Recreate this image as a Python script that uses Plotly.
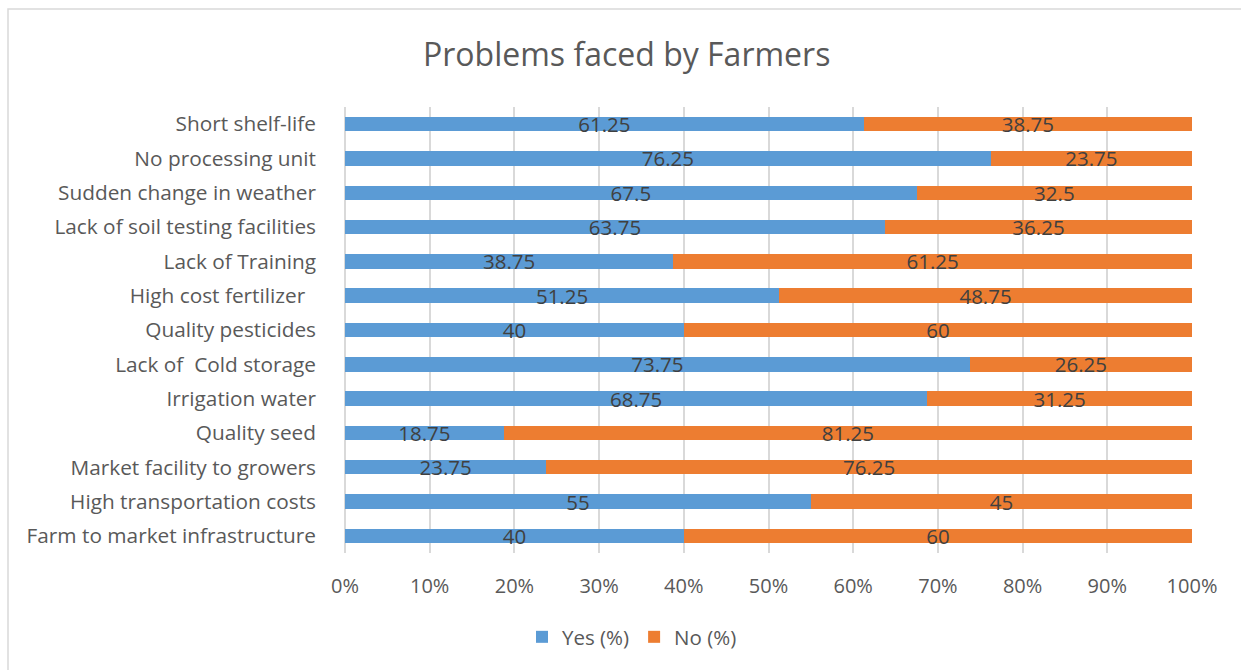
import plotly.graph_objects as go

categories = [
    "Short shelf-life",
    "No processing unit",
    "Sudden change in weather",
    "Lack of soil testing facilities",
    "Lack of Training",
    "High cost fertilizer\u00a0\u00a0",
    "Quality pesticides",
    "Lack of\u00a0 Cold storage",
    "Irrigation water",
    "Quality seed",
    "Market facility to growers",
    "High transportation costs",
    "Farm to market infrastructure",
]
yes_pct = [61.25, 76.25, 67.5, 63.75, 38.75, 51.25, 40, 73.75, 68.75, 18.75, 23.75, 55, 40]
no_pct = [38.75, 23.75, 32.5, 36.25, 61.25, 48.75, 60, 26.25, 31.25, 81.25, 76.25, 45, 60]
tick_vals = [0, 10, 20, 30, 40, 50, 60, 70, 80, 90, 100]
tick_text = [f"{v}%" for v in tick_vals]

FONT = "Open Sans"
TXT = "#595959"

fig = go.Figure()
for vals, name, color in [(yes_pct, "Yes (%)", "#5B9BD5"), (no_pct, "No (%)", "#ED7D31")]:
    fig.add_trace(go.Bar(
        y=categories, x=vals, name=name, orientation="h",
        marker=dict(color=color, line=dict(width=0)),
        text=[f"{v:g}" for v in vals], textposition="inside",
        insidetextanchor="middle", constraintext="none", textangle=0,
        textfont=dict(color="#404040", size=20.5, family=FONT),
        width=0.42,
    ))

W, H = 1241, 670
L, R, T, B = 345, 49, 107, 117
pw, ph = W - L - R, H - T - B

def px_x(p):
    return (p - L) / pw

def px_y(p):
    return (H - B - p) / ph

fig.update_layout(
    width=W, height=H,
    barmode="stack",
    margin=dict(l=L, r=R, t=T, b=B),
    paper_bgcolor="white", plot_bgcolor="white",
    font=dict(family=FONT, color=TXT, size=20),
    title=dict(text="Problems faced by Farmers", x=0.505, xanchor="center",
               y=1 - 55 / H, yanchor="middle",
               font=dict(size=32, color=TXT, family=FONT)),
    xaxis=dict(range=[0, 100], tickvals=tick_vals, ticktext=tick_text,
               showgrid=True, gridcolor="#D9D9D9", gridwidth=1.5,
               zeroline=True, zerolinecolor="#D9D9D9", zerolinewidth=1.5,
               showline=False, ticks="", ticklabelstandoff=19,
               tickfont=dict(size=20, color=TXT)),
    yaxis=dict(autorange="reversed", showgrid=False, zeroline=False,
               showline=False, ticks="", ticklabelstandoff=28,
               tickfont=dict(size=20.8, color=TXT)),
    legend=dict(orientation="h", x=px_x(632), xanchor="center",
                y=px_y(637), yanchor="middle", itemwidth=30,
                font=dict(size=20.5, color=TXT), traceorder="normal"),
    shapes=[dict(type="rect", xref="paper", yref="paper",
                 x0=px_x(8), x1=px_x(1250), y0=px_y(680), y1=px_y(9),
                 line=dict(color="#D9D9D9", width=1.5), fillcolor="rgba(0,0,0,0)",
                 layer="below")],
)

fig.write_html("out.html")
